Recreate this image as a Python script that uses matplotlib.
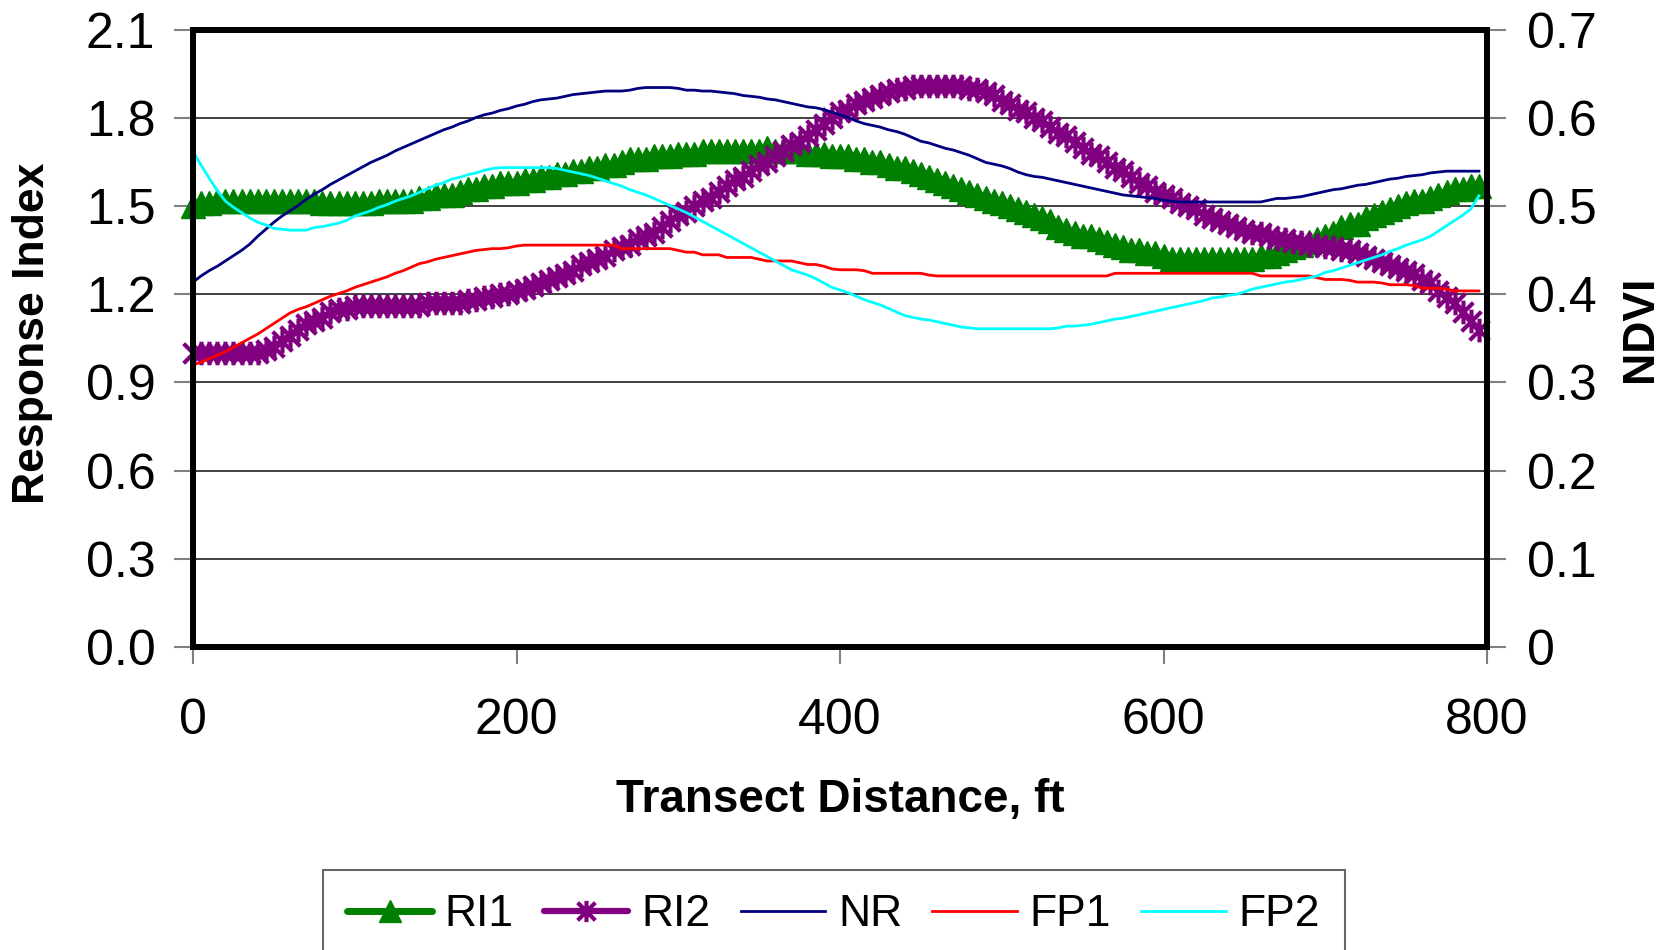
import matplotlib
matplotlib.use("Agg")
import matplotlib.pyplot as plt
from matplotlib.path import Path

plt.rcParams['font.family'] = ['Liberation Sans', 'DejaVu Sans']

# Transect distance, ft (readings every 5 ft)
distance = list(range(0, 800, 5))

# Response index series (left axis)
ri1 = [1.50, 1.51, 1.51, 1.52, 1.52, 1.52, 1.52, 1.52, 1.52, 1.52,
       1.52, 1.52, 1.52, 1.52, 1.52, 1.52, 1.51, 1.51, 1.51, 1.51,
       1.51, 1.51, 1.51, 1.52, 1.52, 1.52, 1.52, 1.52, 1.53, 1.53,
       1.54, 1.54, 1.54, 1.55, 1.56, 1.56, 1.57, 1.57, 1.58, 1.58,
       1.58, 1.59, 1.59, 1.60, 1.60, 1.61, 1.61, 1.62, 1.62, 1.63,
       1.63, 1.64, 1.64, 1.65, 1.66, 1.66, 1.66, 1.67, 1.67, 1.67,
       1.68, 1.68, 1.68, 1.69, 1.69, 1.69, 1.69, 1.69, 1.69, 1.69,
       1.69, 1.70, 1.69, 1.69, 1.69, 1.69, 1.68, 1.68, 1.68, 1.67,
       1.67, 1.67, 1.66, 1.66, 1.65, 1.65, 1.64, 1.63, 1.63, 1.62,
       1.61, 1.60, 1.59, 1.58, 1.57, 1.56, 1.55, 1.54, 1.53, 1.52,
       1.51, 1.50, 1.49, 1.48, 1.47, 1.46, 1.45, 1.43, 1.42, 1.41,
       1.40, 1.40, 1.39, 1.38, 1.37, 1.36, 1.35, 1.35, 1.34, 1.34,
       1.33, 1.32, 1.32, 1.32, 1.32, 1.32, 1.32, 1.32, 1.32, 1.32,
       1.32, 1.32, 1.33, 1.33, 1.34, 1.35, 1.36, 1.37, 1.38, 1.39,
       1.40, 1.41, 1.43, 1.44, 1.44, 1.46, 1.47, 1.48, 1.49, 1.50,
       1.51, 1.52, 1.52, 1.53, 1.54, 1.55, 1.56, 1.56, 1.57, 1.57]

ri2 = [1.00, 1.00, 1.00, 1.00, 1.00, 1.00, 1.00, 1.00, 1.00, 1.01,
       1.02, 1.04, 1.06, 1.08, 1.10, 1.11, 1.12, 1.14, 1.15, 1.15,
       1.16, 1.16, 1.16, 1.16, 1.16, 1.16, 1.16, 1.16, 1.16, 1.17,
       1.17, 1.17, 1.17, 1.17, 1.18, 1.18, 1.19, 1.19, 1.20, 1.20,
       1.21, 1.22, 1.23, 1.24, 1.25, 1.26, 1.27, 1.28, 1.30, 1.31,
       1.32, 1.33, 1.35, 1.36, 1.37, 1.39, 1.40, 1.41, 1.43, 1.45,
       1.47, 1.48, 1.50, 1.52, 1.53, 1.55, 1.57, 1.59, 1.60, 1.62,
       1.64, 1.65, 1.67, 1.69, 1.71, 1.72, 1.74, 1.76, 1.78, 1.80,
       1.82, 1.83, 1.85, 1.86, 1.87, 1.88, 1.89, 1.90, 1.90, 1.91,
       1.91, 1.91, 1.91, 1.91, 1.91, 1.91, 1.90, 1.90, 1.89, 1.88,
       1.86, 1.85, 1.83, 1.82, 1.80, 1.79, 1.77, 1.75, 1.74, 1.72,
       1.70, 1.68, 1.67, 1.65, 1.63, 1.62, 1.60, 1.58, 1.57, 1.55,
       1.54, 1.53, 1.51, 1.50, 1.49, 1.47, 1.46, 1.45, 1.44, 1.43,
       1.42, 1.41, 1.41, 1.40, 1.39, 1.39, 1.38, 1.38, 1.37, 1.37,
       1.36, 1.36, 1.35, 1.35, 1.34, 1.33, 1.32, 1.31, 1.30, 1.29,
       1.28, 1.27, 1.25, 1.24, 1.21, 1.19, 1.17, 1.14, 1.11, 1.08]

# NDVI series (right axis)
nr = [0.414, 0.421, 0.427, 0.432, 0.438, 0.444, 0.450, 0.457, 0.466, 0.474,
      0.482, 0.489, 0.495, 0.501, 0.508, 0.514, 0.519, 0.525, 0.530, 0.535,
      0.540, 0.545, 0.550, 0.554, 0.558, 0.563, 0.567, 0.571, 0.575, 0.579,
      0.583, 0.587, 0.590, 0.594, 0.597, 0.601, 0.604, 0.606, 0.609, 0.611,
      0.614, 0.616, 0.619, 0.621, 0.622, 0.623, 0.625, 0.627, 0.628, 0.629,
      0.630, 0.631, 0.631, 0.631, 0.632, 0.634, 0.635, 0.635, 0.635, 0.635,
      0.634, 0.632, 0.632, 0.631, 0.631, 0.630, 0.629, 0.628, 0.626, 0.625,
      0.624, 0.622, 0.621, 0.619, 0.617, 0.615, 0.613, 0.612, 0.610, 0.607,
      0.604, 0.601, 0.597, 0.594, 0.592, 0.590, 0.587, 0.585, 0.582, 0.578,
      0.574, 0.572, 0.569, 0.566, 0.564, 0.561, 0.558, 0.554, 0.550, 0.548,
      0.546, 0.543, 0.539, 0.536, 0.534, 0.533, 0.531, 0.529, 0.527, 0.525,
      0.523, 0.521, 0.519, 0.517, 0.515, 0.513, 0.512, 0.511, 0.510, 0.509,
      0.507, 0.506, 0.505, 0.505, 0.505, 0.505, 0.505, 0.505, 0.505, 0.505,
      0.505, 0.505, 0.505, 0.507, 0.509, 0.509, 0.510, 0.511, 0.513, 0.515,
      0.517, 0.519, 0.520, 0.522, 0.524, 0.525, 0.527, 0.529, 0.531, 0.532,
      0.534, 0.535, 0.536, 0.538, 0.539, 0.540, 0.540, 0.540, 0.540, 0.540]

fp1 = [0.320, 0.323, 0.327, 0.331, 0.335, 0.340, 0.345, 0.350, 0.355, 0.361,
       0.367, 0.373, 0.379, 0.383, 0.386, 0.390, 0.394, 0.398, 0.401, 0.404,
       0.408, 0.411, 0.414, 0.417, 0.420, 0.424, 0.427, 0.431, 0.435, 0.437,
       0.440, 0.442, 0.444, 0.446, 0.448, 0.450, 0.451, 0.452, 0.452, 0.453,
       0.455, 0.456, 0.456, 0.456, 0.456, 0.456, 0.456, 0.456, 0.456, 0.456,
       0.456, 0.456, 0.456, 0.452, 0.452, 0.452, 0.452, 0.452, 0.452, 0.452,
       0.450, 0.448, 0.448, 0.445, 0.445, 0.445, 0.442, 0.442, 0.442, 0.442,
       0.440, 0.438, 0.438, 0.438, 0.438, 0.436, 0.434, 0.434, 0.432, 0.429,
       0.428, 0.428, 0.428, 0.427, 0.424, 0.424, 0.424, 0.424, 0.424, 0.424,
       0.424, 0.422, 0.421, 0.421, 0.421, 0.421, 0.421, 0.421, 0.421, 0.421,
       0.421, 0.421, 0.421, 0.421, 0.421, 0.421, 0.421, 0.421, 0.421, 0.421,
       0.421, 0.421, 0.421, 0.421, 0.424, 0.424, 0.424, 0.424, 0.424, 0.424,
       0.424, 0.424, 0.424, 0.424, 0.424, 0.424, 0.424, 0.424, 0.424, 0.424,
       0.424, 0.424, 0.421, 0.421, 0.421, 0.421, 0.421, 0.421, 0.421, 0.419,
       0.417, 0.417, 0.417, 0.416, 0.414, 0.414, 0.414, 0.413, 0.411, 0.411,
       0.411, 0.410, 0.407, 0.407, 0.407, 0.406, 0.404, 0.404, 0.404, 0.404]

fp2 = [0.562, 0.547, 0.532, 0.518, 0.506, 0.499, 0.493, 0.487, 0.482, 0.479,
       0.475, 0.474, 0.473, 0.473, 0.473, 0.476, 0.477, 0.479, 0.481, 0.484,
       0.489, 0.492, 0.495, 0.499, 0.502, 0.506, 0.509, 0.512, 0.516, 0.520,
       0.524, 0.527, 0.531, 0.533, 0.536, 0.538, 0.541, 0.543, 0.544, 0.544,
       0.544, 0.544, 0.544, 0.544, 0.544, 0.543, 0.541, 0.539, 0.537, 0.535,
       0.532, 0.529, 0.526, 0.523, 0.519, 0.516, 0.513, 0.509, 0.505, 0.501,
       0.497, 0.493, 0.488, 0.483, 0.478, 0.473, 0.468, 0.463, 0.458, 0.453,
       0.448, 0.443, 0.438, 0.433, 0.428, 0.425, 0.422, 0.418, 0.413, 0.408,
       0.405, 0.402, 0.398, 0.394, 0.391, 0.388, 0.384, 0.380, 0.376, 0.374,
       0.372, 0.371, 0.369, 0.367, 0.365, 0.363, 0.362, 0.361, 0.361, 0.361,
       0.361, 0.361, 0.361, 0.361, 0.361, 0.361, 0.361, 0.362, 0.364, 0.364,
       0.365, 0.366, 0.368, 0.370, 0.372, 0.373, 0.375, 0.377, 0.379, 0.381,
       0.383, 0.385, 0.387, 0.389, 0.391, 0.393, 0.396, 0.397, 0.399, 0.400,
       0.403, 0.406, 0.408, 0.410, 0.412, 0.414, 0.415, 0.417, 0.419, 0.421,
       0.425, 0.427, 0.430, 0.433, 0.436, 0.439, 0.442, 0.445, 0.449, 0.452,
       0.456, 0.459, 0.462, 0.466, 0.472, 0.478, 0.484, 0.490, 0.497, 0.512]

# Tick labels
x_ticks = [0, 200, 400, 600, 800]
ri_ticks = [0.0, 0.3, 0.6, 0.9, 1.2, 1.5, 1.8, 2.1]
ri_labels = ["0.0", "0.3", "0.6", "0.9", "1.2", "1.5", "1.8", "2.1"]
ndvi_ticks = [0.0, 0.1, 0.2, 0.3, 0.4, 0.5, 0.6, 0.7]
ndvi_labels = ["0", "0.1", "0.2", "0.3", "0.4", "0.5", "0.6", "0.7"]

# Excel-style asterisk marker: an X with a vertical bar
star_marker = Path([(-1, -1), (1, 1), (-1, 1), (1, -1), (0, -1.2), (0, 1.2)],
                   [Path.MOVETO, Path.LINETO, Path.MOVETO, Path.LINETO,
                    Path.MOVETO, Path.LINETO])

W, H = 1673, 950
fig = plt.figure(figsize=(W / 100, H / 100), dpi=100)
ax = fig.add_axes([193 / W, 1 - 646.6 / H, 1294 / W, 616.3 / H])
ax2 = ax.twinx()

ax.plot(distance, ri1, color='#008000', lw=5, marker='^', markersize=17,
        markeredgecolor='#008000', markerfacecolor='#008000',
        solid_capstyle='round', clip_on=False, zorder=3, label='RI1')
ax.plot(distance, ri2, color='#800080', lw=4.5, marker=star_marker, markersize=17,
        markeredgewidth=3, markeredgecolor='#800080', markerfacecolor='none',
        solid_capstyle='round', clip_on=False, zorder=4, label='RI2')
ax2.plot(distance, nr, color='#000080', lw=2, label='NR')
ax2.plot(distance, fp1, color='#FF0000', lw=2, label='FP1')
ax2.plot(distance, fp2, color='#00FFFF', lw=2, label='FP2')

ax.set_xlim(0, 800)
ax.set_ylim(0, 2.1)
ax2.set_ylim(0, 0.7)

ax.set_xticks(x_ticks)
ax.set_yticks(ri_ticks)
ax.set_yticklabels(ri_labels)
ax2.set_yticks(ndvi_ticks)
ax2.set_yticklabels(ndvi_labels)

ax.yaxis.grid(True, color='#202020', lw=1.2)
ax.set_axisbelow(True)

ax.tick_params(axis='x', direction='out', length=12, width=1.5, color='#808080',
               labelsize=36, pad=25)
ax.tick_params(axis='y', direction='out', length=14, width=1.5, color='#808080',
               labelsize=36, pad=13)
ax2.tick_params(axis='y', direction='out', length=14, width=1.5, color='#808080',
                labelsize=36, pad=15)

for a in (ax, ax2):
    for s in a.spines.values():
        s.set_linewidth(4.3)
        s.set_color('black')

ax.set_xlabel("Transect Distance, ft", fontsize=33, fontweight='bold', va='center')
ax.xaxis.set_label_coords(0.5, -0.249)
ax.set_ylabel("Response Index", fontsize=32, fontweight='bold', va='center')
ax.yaxis.set_label_coords(-0.1244, 0.509)
ax2.set_ylabel("NDVI", fontsize=32, fontweight='bold', va='center', rotation=90)
ax2.yaxis.set_label_coords(1.119, 0.515)

handles = ax.get_lines() + ax2.get_lines()
leg = fig.legend(handles, [h.get_label() for h in handles], loc='upper left',
                 bbox_to_anchor=(323 / W, 1 - 870 / H), ncol=5, fontsize=32,
                 frameon=True, fancybox=False, edgecolor='#404040',
                 handlelength=1.9, handletextpad=0.29, columnspacing=0.68,
                 borderpad=0.55, borderaxespad=0, markerscale=0.9)
leg.get_frame().set_linewidth(1.5)

fig.savefig("out.png", dpi=100, facecolor='white')
